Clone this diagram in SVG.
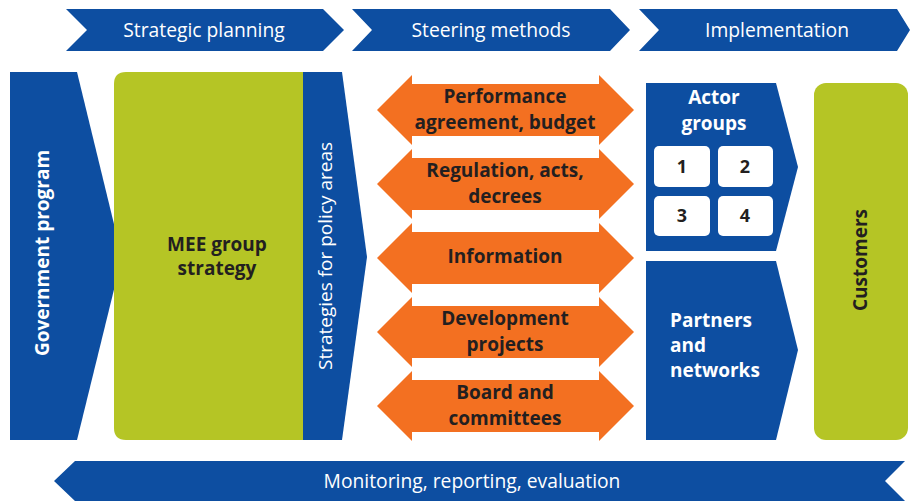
<svg xmlns="http://www.w3.org/2000/svg" width="910" height="501" viewBox="0 0 910 501">
  <style>
    .blue { fill: #0d4ea1; }
    .green { fill: #b5c525; }
    .orange { fill: #f37021; }
    .box { fill: #ffffff; }
    text { font-family: "Open Sans", "Liberation Sans", sans-serif; text-anchor: middle; dominant-baseline: central; }
    .hdr { fill: #ffffff; font-size: 19.3px; }
    .wb { fill: #ffffff; font-size: 19px; font-weight: bold; }
    .db { fill: #231f20; font-size: 19px; font-weight: bold; }
    .wr { fill: #ffffff; font-size: 19px; }
    .num { fill: #231f20; font-size: 18px; font-weight: bold; }
  </style>

  <!-- Phase headers -->
  <g id="phase-planning">
    <polygon class="blue" points="66,9 323,9 344,30 323,51 66,51 87,30"/>
    <text class="hdr" x="204" y="29">Strategic planning</text>
  </g>
  <g id="phase-steering">
    <polygon class="blue" points="352,9 610,9 630,30 610,51 352,51 372,30"/>
    <text class="hdr" x="491" y="29">Steering methods</text>
  </g>
  <g id="phase-implementation">
    <polygon class="blue" points="639,9 897,9 910,30 897,51 639,51 659,30"/>
    <text class="hdr" x="777" y="29">Implementation</text>
  </g>

  <!-- Strategic planning column -->
  <g id="government-program">
    <polygon class="blue" points="10,72 77,72 122,257 77,440 10,440"/>
    <text class="wb" transform="translate(42,253) rotate(-90)">Government program</text>
  </g>
  <g id="mee-group-strategy">
    <path class="green" d="M126,72 H303 V440 H126 Q114,440 114,428 V84 Q114,72 126,72 Z"/>
    <text class="db" x="217" y="244">MEE group</text>
    <text class="db" x="217" y="268">strategy</text>
  </g>
  <g id="policy-strategies">
    <polygon class="blue" points="303,72 342,72 367,257 342,440 303,440"/>
    <text class="wr" transform="translate(325,256) rotate(-90)">Strategies for policy areas</text>
  </g>

  <!-- Steering methods: two-way arrows -->
  <g id="performance-agreement">
    <polygon class="orange" points="377,110 412,75 412,84 599,84 599,75 634,110 599,145 599,136 412,136 412,145"/>
    <text class="db" x="505" y="96">Performance</text>
    <text class="db" x="505" y="122">agreement, budget</text>
  </g>
  <g id="regulation">
    <polygon class="orange" points="377,184 412,149 412,158 599,158 599,149 634,184 599,219 599,210 412,210 412,219"/>
    <text class="db" x="505" y="170">Regulation, acts,</text>
    <text class="db" x="505" y="196">decrees</text>
  </g>
  <g id="information">
    <polygon class="orange" points="377,258 412,223 412,232 599,232 599,223 634,258 599,293 599,284 412,284 412,293"/>
    <text class="db" x="505" y="256">Information</text>
  </g>
  <g id="development-projects">
    <polygon class="orange" points="377,332 412,297 412,306 599,306 599,297 634,332 599,367 599,358 412,358 412,367"/>
    <text class="db" x="505" y="318">Development</text>
    <text class="db" x="505" y="344">projects</text>
  </g>
  <g id="board-committees">
    <polygon class="orange" points="377,406 412,371 412,380 599,380 599,371 634,406 599,441 599,432 412,432 412,441"/>
    <text class="db" x="505" y="392">Board and</text>
    <text class="db" x="505" y="418">committees</text>
  </g>

  <!-- Implementation column -->
  <g id="actor-groups">
    <polygon class="blue" points="646,83 776,83 798,167 776,251 646,251"/>
    <text class="wb" x="714" y="97">Actor</text>
    <text class="wb" x="714" y="123">groups</text>
    <rect class="box" x="654" y="146" width="56" height="41" rx="5"/>
    <rect class="box" x="718" y="146" width="55" height="41" rx="5"/>
    <rect class="box" x="654" y="196" width="56" height="40" rx="5"/>
    <rect class="box" x="718" y="196" width="55" height="40" rx="5"/>
    <text class="num" x="682" y="166">1</text>
    <text class="num" x="745" y="166">2</text>
    <text class="num" x="682" y="215">3</text>
    <text class="num" x="745" y="215">4</text>
  </g>
  <g id="partners-networks">
    <polygon class="blue" points="646,261 776,261 798,350 776,440 646,440"/>
    <text class="wb" x="670" y="320" style="text-anchor:start">Partners</text>
    <text class="wb" x="670" y="345" style="text-anchor:start">and</text>
    <text class="wb" x="670" y="370" style="text-anchor:start">networks</text>
  </g>
  <g id="customers">
    <rect class="green" x="814" y="83" width="94" height="357" rx="12"/>
    <text class="db" transform="translate(860,260) rotate(-90)">Customers</text>
  </g>

  <!-- Feedback band -->
  <g id="monitoring">
    <polygon class="blue" points="75,461 905,461 885,481 905,501 75,501 54,481"/>
    <text class="hdr" x="472" y="480">Monitoring, reporting, evaluation</text>
  </g>

  <g id="connectors"></g>
</svg>
